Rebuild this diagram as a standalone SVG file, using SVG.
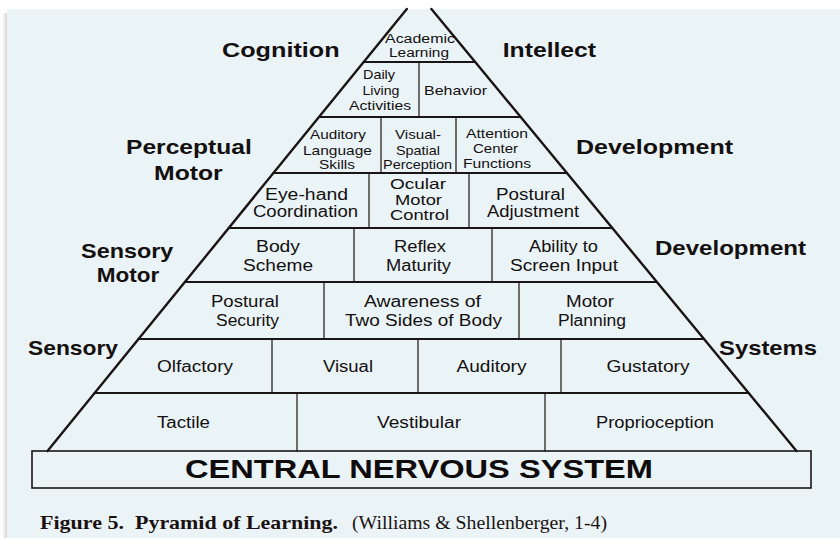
<svg xmlns="http://www.w3.org/2000/svg" width="840" height="538" viewBox="0 0 840 538">
<defs>
<linearGradient id="shadow" x1="0" y1="0" x2="1" y2="0">
<stop offset="0" stop-color="#ffffff"/>
<stop offset="1" stop-color="#cfcfcf"/>
</linearGradient>
<style>
.ln{stroke:#1a1414;fill:none;stroke-linecap:round}
.side{stroke-width:2.4}
.row{stroke-width:2}
.div{stroke-width:1.2}
.t{font-family:"Liberation Sans",Arial,sans-serif;fill:#141010;text-anchor:middle}
.s12{font-size:12.5px}
.s13{font-size:13.5px}
.s14{font-size:14.5px}
.s16{font-size:16px}
.lb{font-family:"Liberation Sans",Arial,sans-serif;font-weight:bold;font-size:21px;fill:#141010;text-anchor:middle}
.cns{font-family:"Liberation Sans",Arial,sans-serif;font-weight:bold;font-size:25px;fill:#100c0c}
.cap{font-family:"Liberation Serif","Times New Roman",serif;fill:#1a1212}
</style>
</defs>
<rect x="0" y="0" width="840" height="538" fill="#ffffff"/>
<rect x="2" y="13" width="6" height="525" fill="url(#shadow)"/>
<rect x="7" y="9" width="833" height="529" fill="#eaf3f6"/>

<g id="frame">
<line class="ln side" x1="406.8" y1="9" x2="47.5" y2="451"/>
<line class="ln side" x1="431.4" y1="9" x2="796.5" y2="451"/>
<line class="ln row" x1="363.7" y1="62" x2="475.2" y2="62"/>
<line class="ln row" x1="319" y1="117" x2="520.6" y2="117"/>
<line class="ln row" x1="273.5" y1="173" x2="566.9" y2="173"/>
<line class="ln row" x1="228.8" y1="228" x2="612.3" y2="228"/>
<line class="ln row" x1="184.9" y1="282" x2="656.9" y2="282"/>
<line class="ln row" x1="138.5" y1="339" x2="703.9" y2="339"/>
<line class="ln row" x1="94.6" y1="393" x2="748.6" y2="393"/>
<line class="ln div" x1="419" y1="62" x2="419" y2="117"/>
<line class="ln div" x1="381" y1="117" x2="381" y2="173"/>
<line class="ln div" x1="456" y1="117" x2="456" y2="173"/>
<line class="ln div" x1="369" y1="173" x2="369" y2="228"/>
<line class="ln div" x1="469" y1="173" x2="469" y2="228"/>
<line class="ln div" x1="354" y1="228" x2="354" y2="282"/>
<line class="ln div" x1="492" y1="228" x2="492" y2="282"/>
<line class="ln div" x1="324" y1="282" x2="324" y2="339"/>
<line class="ln div" x1="519" y1="282" x2="519" y2="339"/>
<line class="ln div" x1="272" y1="339" x2="272" y2="393"/>
<line class="ln div" x1="418" y1="339" x2="418" y2="393"/>
<line class="ln div" x1="561" y1="339" x2="561" y2="393"/>
<line class="ln div" x1="297" y1="393" x2="297" y2="451"/>
<line class="ln div" x1="545" y1="393" x2="545" y2="451"/>
</g>

<g id="connectors"></g>

<g id="academic-learning">
<text class="t s12" x="420" y="43" textLength="70" lengthAdjust="spacingAndGlyphs">Academic</text>
<text class="t s12" x="419" y="57" textLength="60" lengthAdjust="spacingAndGlyphs">Learning</text>
</g>
<g id="daily-living">
<text class="t s13" x="379" y="79" textLength="32" lengthAdjust="spacingAndGlyphs">Daily</text>
<text class="t s13" x="381" y="95" textLength="37" lengthAdjust="spacingAndGlyphs">Living</text>
<text class="t s13" x="380" y="110" textLength="62" lengthAdjust="spacingAndGlyphs">Activities</text>
</g>
<g id="behavior">
<text class="t s13" x="455.5" y="95" textLength="63" lengthAdjust="spacingAndGlyphs">Behavior</text>
</g>
<g id="auditory-language">
<text class="t s13" x="338" y="139" textLength="56" lengthAdjust="spacingAndGlyphs">Auditory</text>
<text class="t s13" x="337.5" y="155" textLength="69" lengthAdjust="spacingAndGlyphs">Language</text>
<text class="t s13" x="337" y="169" textLength="36" lengthAdjust="spacingAndGlyphs">Skills</text>
</g>
<g id="visual-spatial">
<text class="t s13" x="418" y="139" textLength="46" lengthAdjust="spacingAndGlyphs">Visual-</text>
<text class="t s13" x="418" y="155" textLength="44" lengthAdjust="spacingAndGlyphs">Spatial</text>
<text class="t s13" x="417.5" y="169" textLength="69" lengthAdjust="spacingAndGlyphs">Perception</text>
</g>
<g id="attention-center">
<text class="t s13" x="497" y="138" textLength="62" lengthAdjust="spacingAndGlyphs">Attention</text>
<text class="t s13" x="495.5" y="153" textLength="45" lengthAdjust="spacingAndGlyphs">Center</text>
<text class="t s13" x="497" y="168" textLength="68" lengthAdjust="spacingAndGlyphs">Functions</text>
</g>
<g id="eye-hand">
<text class="t s16" x="306.5" y="200" textLength="83" lengthAdjust="spacingAndGlyphs">Eye-hand</text>
<text class="t s16" x="305.5" y="217" textLength="105" lengthAdjust="spacingAndGlyphs">Coordination</text>
</g>
<g id="ocular-motor">
<text class="t s14" x="418" y="189" textLength="56" lengthAdjust="spacingAndGlyphs">Ocular</text>
<text class="t s14" x="418.5" y="204.5" textLength="47" lengthAdjust="spacingAndGlyphs">Motor</text>
<text class="t s14" x="419.5" y="220" textLength="59" lengthAdjust="spacingAndGlyphs">Control</text>
</g>
<g id="postural-adjustment">
<text class="t s16" x="530.5" y="200" textLength="69" lengthAdjust="spacingAndGlyphs">Postural</text>
<text class="t s16" x="533" y="217" textLength="92" lengthAdjust="spacingAndGlyphs">Adjustment</text>
</g>
<g id="body-scheme">
<text class="t s16" x="278" y="252" textLength="44" lengthAdjust="spacingAndGlyphs">Body</text>
<text class="t s16" x="278" y="270.5" textLength="70" lengthAdjust="spacingAndGlyphs">Scheme</text>
</g>
<g id="reflex-maturity">
<text class="t s16" x="420" y="252" textLength="52" lengthAdjust="spacingAndGlyphs">Reflex</text>
<text class="t s16" x="418.5" y="270.5" textLength="65" lengthAdjust="spacingAndGlyphs">Maturity</text>
</g>
<g id="screen-input">
<text class="t s16" x="563.5" y="252" textLength="69" lengthAdjust="spacingAndGlyphs">Ability to</text>
<text class="t s16" x="564" y="270.5" textLength="108" lengthAdjust="spacingAndGlyphs">Screen Input</text>
</g>
<g id="postural-security">
<text class="t s16" x="245" y="307" textLength="68" lengthAdjust="spacingAndGlyphs">Postural</text>
<text class="t s16" x="247.5" y="326" textLength="63" lengthAdjust="spacingAndGlyphs">Security</text>
</g>
<g id="two-sides">
<text class="t s16" x="422.5" y="307" textLength="117" lengthAdjust="spacingAndGlyphs">Awareness of</text>
<text class="t s16" x="423.5" y="326" textLength="157" lengthAdjust="spacingAndGlyphs">Two Sides of Body</text>
</g>
<g id="motor-planning">
<text class="t s16" x="590" y="307" textLength="48" lengthAdjust="spacingAndGlyphs">Motor</text>
<text class="t s16" x="592" y="326" textLength="68" lengthAdjust="spacingAndGlyphs">Planning</text>
</g>
<g id="olfactory"><text class="t s16" x="195" y="372" textLength="76" lengthAdjust="spacingAndGlyphs">Olfactory</text></g>
<g id="visual"><text class="t s16" x="348" y="372" textLength="50" lengthAdjust="spacingAndGlyphs">Visual</text></g>
<g id="auditory"><text class="t s16" x="491.5" y="372" textLength="70" lengthAdjust="spacingAndGlyphs">Auditory</text></g>
<g id="gustatory"><text class="t s16" x="648" y="372" textLength="83" lengthAdjust="spacingAndGlyphs">Gustatory</text></g>
<g id="tactile"><text class="t s16" x="183.5" y="428" textLength="53" lengthAdjust="spacingAndGlyphs">Tactile</text></g>
<g id="vestibular"><text class="t s16" x="419" y="428" textLength="84" lengthAdjust="spacingAndGlyphs">Vestibular</text></g>
<g id="proprioception"><text class="t s16" x="655" y="428" textLength="118" lengthAdjust="spacingAndGlyphs">Proprioception</text></g>

<g id="cns">
<rect x="32" y="451" width="779" height="37" fill="none" stroke="#1a1414" stroke-width="1.6"/>
<text class="cns" x="185" y="478" textLength="468" lengthAdjust="spacingAndGlyphs">CENTRAL NERVOUS SYSTEM</text>
</g>

<g id="label-cognition"><text class="lb" x="280.8" y="57" textLength="117.6" lengthAdjust="spacingAndGlyphs">Cognition</text></g>
<g id="label-intellect"><text class="lb" x="549.4" y="57" textLength="93.3" lengthAdjust="spacingAndGlyphs">Intellect</text></g>
<g id="label-perceptual-motor">
<text class="lb" x="188.9" y="154" textLength="125.7" lengthAdjust="spacingAndGlyphs">Perceptual</text>
<text class="lb" x="188.4" y="179.5" textLength="68.7" lengthAdjust="spacingAndGlyphs">Motor</text>
</g>
<g id="label-development-1"><text class="lb" x="654.5" y="153.5" textLength="157" lengthAdjust="spacingAndGlyphs">Development</text></g>
<g id="label-sensory-motor">
<text class="lb" x="127.2" y="257.5" textLength="92.3" lengthAdjust="spacingAndGlyphs">Sensory</text>
<text class="lb" x="128" y="281.5" textLength="62.6" lengthAdjust="spacingAndGlyphs">Motor</text>
</g>
<g id="label-development-2"><text class="lb" x="730.5" y="255" textLength="151" lengthAdjust="spacingAndGlyphs">Development</text></g>
<g id="label-sensory"><text class="lb" x="73" y="355" textLength="90" lengthAdjust="spacingAndGlyphs">Sensory</text></g>
<g id="label-systems"><text class="lb" x="768" y="355" textLength="98" lengthAdjust="spacingAndGlyphs">Systems</text></g>

<g id="caption">
<text class="cap" font-weight="bold" font-size="19.5" x="40" y="529" textLength="84" lengthAdjust="spacingAndGlyphs">Figure 5.</text>
<text class="cap" font-weight="bold" font-size="19.5" x="135" y="529" textLength="203" lengthAdjust="spacingAndGlyphs">Pyramid of Learning.</text>
<text class="cap" font-size="18.5" x="352" y="529" textLength="255" lengthAdjust="spacingAndGlyphs">(Williams &amp; Shellenberger, 1-4)</text>
</g>
</svg>
